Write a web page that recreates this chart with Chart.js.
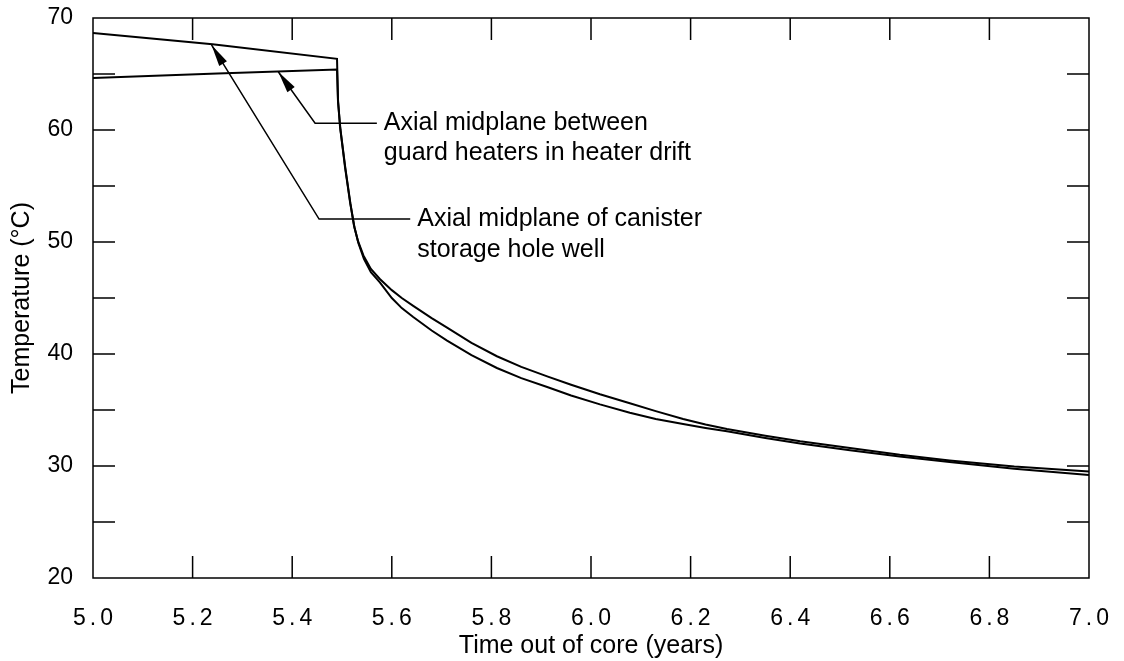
<!DOCTYPE html>
<html><head><meta charset="utf-8">
<script src="https://cdn.jsdelivr.net/npm/chart.js@4.4.1/dist/chart.umd.min.js"></script>
<style>html,body{margin:0;padding:0;background:#fff;}canvas{display:block;}</style>
</head><body>
<canvas id="c" width="1124" height="661"></canvas>
<script>
// ---- data ----
const xTickValues = [5.0, 5.2, 5.4, 5.6, 5.8, 6.0, 6.2, 6.4, 6.6, 6.8, 7.0];
const yTickValues = [20, 25, 30, 35, 40, 45, 50, 55, 60, 65, 70];
const yLabelValues = [20, 30, 40, 50, 60, 70];

const canisterTime = [5.0, 5.24, 5.49, 5.492, 5.496, 5.506, 5.516, 5.524, 5.532, 5.543, 5.558, 5.576, 5.600, 5.620, 5.643, 5.680, 5.711, 5.760, 5.811, 5.860, 5.912, 5.960, 6.018, 6.078, 6.130, 6.185, 6.230, 6.273, 6.350, 6.420, 6.520, 6.620, 6.720, 6.850, 7.0];
const canisterTemp = [68.65, 67.65, 66.35, 62.7, 60.3, 56.7, 53.6, 51.5, 50.1, 48.8, 47.6, 46.7, 45.7, 45.0, 44.3, 43.2, 42.35, 41.0, 39.8, 38.85, 38.0, 37.25, 36.4, 35.6, 34.9, 34.2, 33.7, 33.3, 32.7, 32.2, 31.6, 31.0, 30.5, 29.95, 29.5];

const driftTime = [5.0, 5.25, 5.49, 5.492, 5.497, 5.507, 5.517, 5.525, 5.533, 5.544, 5.558, 5.576, 5.600, 5.620, 5.643, 5.680, 5.711, 5.760, 5.811, 5.860, 5.912, 5.960, 6.018, 6.078, 6.130, 6.185, 6.230, 6.273, 6.350, 6.420, 6.520, 6.620, 6.720, 6.850, 7.0];
const driftTemp = [64.65, 65.05, 65.4, 62.5, 60.0, 56.5, 53.4, 51.3, 49.9, 48.5, 47.3, 46.4, 45.0, 44.1, 43.3, 42.1, 41.2, 39.9, 38.75, 37.85, 37.05, 36.3, 35.5, 34.75, 34.2, 33.75, 33.4, 33.1, 32.5, 32.0, 31.4, 30.85, 30.35, 29.75, 29.2];

const driftLabel = ['Axial midplane between', 'guard heaters in heater drift'];
const canisterLabel = ['Axial midplane of canister', 'storage hole well'];
// callout anchors in data units: arrow tip, elbow, end of leader
const driftCallout = {tip: [5.372, 65.2], elbow: [5.446, 60.6], end: [5.570, 60.6]};
const canisterCallout = {tip: [5.238, 67.6], elbow: [5.454, 52.05], end: [5.637, 52.05]};

const toPoints = (xs, ys) => xs.map((x, i) => ({x, y: ys[i]}));

const FONT = "'Liberation Sans', Arial, Helvetica, sans-serif";

const frameTicks = {
  id: 'frameTicks',
  afterDraw(chart) {
    const {ctx, chartArea: {left, right, top, bottom}, scales: {x, y}} = chart;
    ctx.save();
    ctx.strokeStyle = '#000';
    ctx.lineWidth = 1.5;
    ctx.strokeRect(left, top, right - left, bottom - top);
    const L = 22;
    ctx.beginPath();
    x.ticks.forEach(t => {
      const px = x.getPixelForValue(t.value);
      if (px <= left + 1 || px >= right - 1) return;
      ctx.moveTo(px, bottom); ctx.lineTo(px, bottom - L);
      ctx.moveTo(px, top); ctx.lineTo(px, top + L);
    });
    y.ticks.forEach(t => {
      const py = y.getPixelForValue(t.value);
      if (py <= top + 1 || py >= bottom - 1) return;
      ctx.moveTo(left, py); ctx.lineTo(left + L, py);
      ctx.moveTo(right, py); ctx.lineTo(right - L, py);
    });
    ctx.stroke();
    ctx.restore();
  }
};

function drawCallout(chart, c, lines, lineGap) {
  const {ctx, scales: {x, y}} = chart;
  const P = p => [x.getPixelForValue(p[0]), y.getPixelForValue(p[1])];
  const tip = P(c.tip), elbow = P(c.elbow), end = P(c.end);
  ctx.save();
  ctx.strokeStyle = '#000';
  ctx.fillStyle = '#000';
  ctx.lineWidth = 1.5;
  ctx.beginPath();
  ctx.moveTo(tip[0], tip[1]); ctx.lineTo(elbow[0], elbow[1]); ctx.lineTo(end[0], end[1]);
  ctx.stroke();
  // arrowhead
  const dx = elbow[0] - tip[0], dy = elbow[1] - tip[1];
  const len = Math.hypot(dx, dy), ux = dx / len, uy = dy / len;
  const hl = 22, hw = 4.5;
  ctx.beginPath();
  ctx.moveTo(tip[0], tip[1]);
  ctx.lineTo(tip[0] + ux * hl - uy * hw, tip[1] + uy * hl + ux * hw);
  ctx.lineTo(tip[0] + ux * hl + uy * hw, tip[1] + uy * hl - ux * hw);
  ctx.closePath();
  ctx.fill();
  ctx.font = '25px ' + FONT;
  ctx.textBaseline = 'middle';
  ctx.textAlign = 'left';
  lines.forEach((t, i) => ctx.fillText(t, end[0] + 7, end[1] + i * lineGap));
  ctx.restore();
}

const callouts = {
  id: 'callouts',
  afterDraw(chart) {
    drawCallout(chart, driftCallout, driftLabel, 30);
    drawCallout(chart, canisterCallout, canisterLabel, 31);
  }
};

const spacedLabels = {
  id: 'spacedLabels',
  beforeDraw(chart) {
    const s = chart.scales.x;
    if (s && !s._spaced) {
      const orig = s.drawLabels;
      s.drawLabels = function (a) {
        const ctx = this.ctx;
        ctx.save();
        ctx.letterSpacing = '4px';
        ctx.translate(2, 0);
        orig.call(this, a);
        ctx.restore();
      };
      s._spaced = true;
    }
  }
};

new Chart(document.getElementById('c'), {
  type: 'line',
  data: {
    datasets: [
      {label: 'Axial midplane of canister storage hole well', data: toPoints(canisterTime, canisterTemp),
       borderColor: '#000', borderWidth: 2, pointRadius: 0, tension: 0, fill: false},
      {label: 'Axial midplane between guard heaters in heater drift', data: toPoints(driftTime, driftTemp),
       borderColor: '#000', borderWidth: 2, pointRadius: 0, tension: 0, fill: false}
    ]
  },
  options: {
    responsive: false,
    animation: false,
    events: [],
    layout: {padding: {top: 18, right: 35, left: 0, bottom: 0}},
    plugins: {legend: {display: false}, tooltip: {enabled: false}},
    scales: {
      x: {
        type: 'linear', min: 5.0, max: 7.0,
        afterBuildTicks: s => { s.ticks = xTickValues.map(v => ({value: v})); },
        afterFit: s => { s.height = 83; s.paddingLeft = 0; s.paddingRight = 0; },
        grid: {display: false},
        border: {display: false},
        ticks: {color: '#000', padding: 19, font: {family: FONT, size: 23}, callback: v => Number(v).toFixed(1), maxRotation: 0, autoSkip: false},
        title: {display: true, text: 'Time out of core (years)', color: '#000', font: {family: FONT, size: 25}, padding: {top: 0, bottom: 0}}
      },
      y: {
        type: 'linear', min: 20, max: 70,
        afterBuildTicks: s => { s.ticks = yTickValues.map(v => ({value: v})); },
        afterFit: s => { s.width = 93; s.paddingTop = 0; s.paddingBottom = 0; },
        grid: {display: false},
        border: {display: false},
        ticks: {color: '#000', padding: 12, font: {family: FONT, size: 23}, autoSkip: false,
                callback: v => yLabelValues.includes(v) ? String(v) : ''},
        title: {display: true, text: 'Temperature (°C)', color: '#000', font: {family: FONT, size: 25}, padding: {top: 7, bottom: 0}}
      }
    }
  },
  plugins: [spacedLabels, frameTicks, callouts]
});
</script>
</body></html>
